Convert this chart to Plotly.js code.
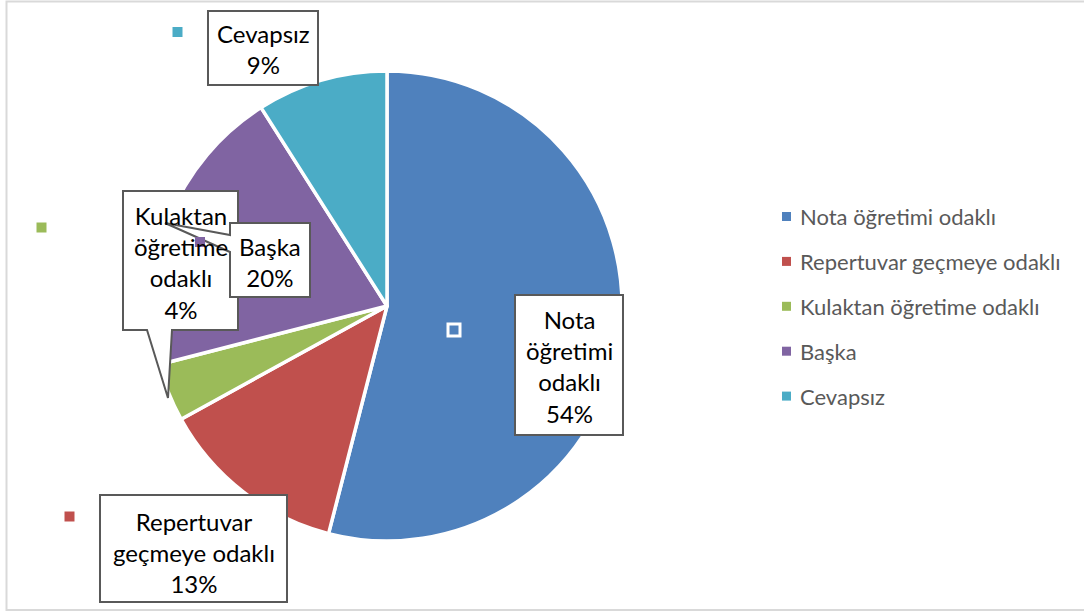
<!DOCTYPE html>
<html><head><meta charset="utf-8">
<script src="https://cdn.plot.ly/plotly-3.0.1.min.js"></script>
<style>html,body{margin:0;padding:0;background:#fff}#chart{width:1084px;height:612px}</style>
</head><body><div id="chart"></div>
<script>
// ---- data ----
const categories = ["Nota öğretimi odaklı", "Repertuvar geçmeye odaklı", "Kulaktan öğretime odaklı", "Başka", "Cevapsız"];
const percents = [54, 13, 4, 20, 9];
const colors = ["#4F81BD", "#C0504D", "#9BBB59", "#8064A2", "#4BACC6"];
const labelLines = [["Nota", "öğretimi", "odaklı"], ["Repertuvar", "geçmeye odaklı"], ["Kulaktan", "öğretime", "odaklı"], ["Başka"], ["Cevapsız"]];

// ---- layout helpers (pixel -> paper) ----
const W = 1084, H = 612;
const px = x => x / W, py = y => 1 - y / H;
const path = pts => pts.map((p, i) => (i ? "L" : "M") + px(p[0]).toFixed(5) + "," + py(p[1]).toFixed(5)).join(" ") + " Z";

// callout boxes (draw order matters: later on top)
const callouts = [
  {i: 4, pts: [[208,11],[318,11],[318,85],[208,85]], c: [263, 49], key: [177.5, 32, 10]},
  {i: 1, pts: [[100,495],[287,495],[287,602],[100,602]], c: [193.5, 552], key: [69.5, 516.5, 10]},
  {i: 0, pts: [[515,295],[623,295],[623,435],[515,435]], c: [569, 366], key: null},
  {i: 2, pts: [[123,191],[238,191],[238,330],[172,330],[168,398],[147,330],[123,330]], c: [180.5, 262], key: [41.5, 227.5, 10]},
  {i: 3, pts: [[230,223],[310,223],[310,297],[230,297],[230,252],[165,223],[230,235]], c: [270, 262], key: [200, 242, 10]}
];

const shapes = [];
const annotations = [];

// outer frame
shapes.push({type: "rect", xref: "paper", yref: "paper", x0: px(6.5), x1: px(1095), y0: py(610), y1: py(1.5),
  line: {color: "#D9D9D9", width: 2}, fillcolor: "rgba(0,0,0,0)", layer: "below"});

callouts.forEach(co => {
  shapes.push({type: "path", xref: "paper", yref: "paper", path: path(co.pts),
    fillcolor: "#FFFFFF", line: {color: "#595959", width: 2}, layer: "above"});
});
// legend keys next to labels
callouts.forEach(co => {
  if (!co.key) return;
  const [x, y, s] = co.key;
  shapes.push({type: "rect", xref: "paper", yref: "paper", x0: px(x - s/2), x1: px(x + s/2), y0: py(y + s/2), y1: py(y - s/2),
    fillcolor: colors[co.i], line: {width: 0}, layer: "above"});
});
// blue key inside the Nota slice (white outlined)
shapes.push({type: "rect", xref: "paper", yref: "paper", x0: px(448), x1: px(460), y0: py(336), y1: py(324),
  fillcolor: colors[0], line: {color: "#FFFFFF", width: 3}, layer: "above"});

callouts.forEach(co => {
  annotations.push({xref: "paper", yref: "paper", x: px(co.c[0]), y: py(co.c[1]), xanchor: "center", yanchor: "middle",
    showarrow: false, align: "center",
    text: labelLines[co.i].join("<br>") + "<br>" + percents[co.i] + "%",
    font: {family: "Lato, 'Open Sans', sans-serif", size: 24, color: "#000000"}});
});

// manual legend
categories.forEach((cat, i) => {
  const y = 216.5 + i * 44.9;
  shapes.push({type: "rect", xref: "paper", yref: "paper", x0: px(782), x1: px(791), y0: py(y + 4.5), y1: py(y - 4.5),
    fillcolor: colors[i], line: {width: 0}});
  annotations.push({xref: "paper", yref: "paper", x: px(798), y: py(y), xanchor: "left", yanchor: "middle",
    showarrow: false, text: cat, font: {family: "Lato, 'Open Sans', sans-serif", size: 22, color: "#595959"}});
});

const trace = {
  type: "pie", labels: categories, values: percents, sort: false, direction: "clockwise", rotation: 0,
  marker: {colors: colors, line: {color: "#FFFFFF", width: 3.5}},
  textinfo: "none", hoverinfo: "label+percent", showlegend: false,
  domain: {x: [px(152), px(622)], y: [py(541), py(71)]}
};

const layout = {
  width: W, height: H, margin: {l: 0, r: 0, t: 0, b: 0},
  paper_bgcolor: "#FFFFFF", showlegend: false,
  shapes: shapes, annotations: annotations
};
Plotly.newPlot("chart", [trace], layout, {displayModeBar: false, staticPlot: true});
</script></body></html>
